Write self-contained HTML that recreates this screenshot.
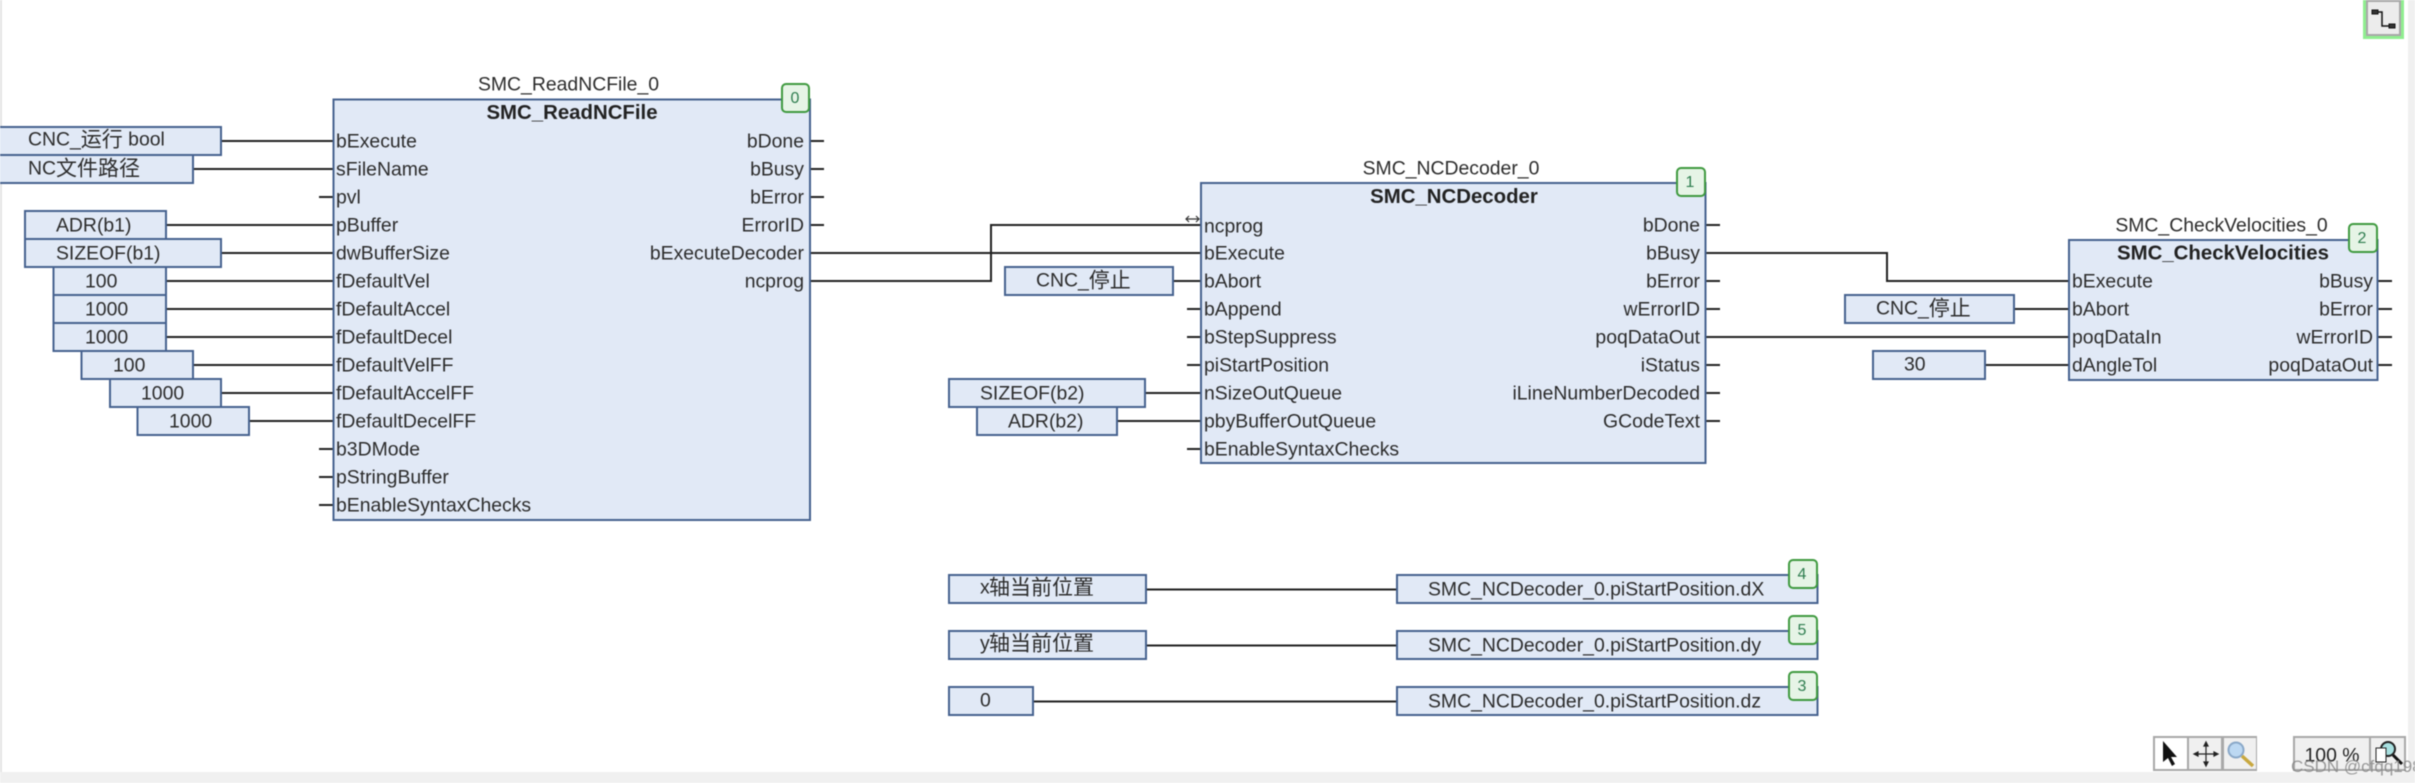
<!DOCTYPE html>
<html><head><meta charset="utf-8">
<style>
html,body{margin:0;padding:0;background:#fff;width:2415px;height:783px;overflow:hidden}
svg{display:block;filter:blur(0.45px)}
text{font-family:"Liberation Sans","Noto Sans CJK SC",sans-serif;font-size:19.4px;fill:#2c2c2c;dominant-baseline:central;transform:translateY(.7px)}
tspan.k{font-size:21px}
.b{fill:#e1e9f6;stroke:#46628f;stroke-width:2}
.w{stroke:#222;stroke-width:2;fill:none}
.t{font-weight:bold;font-size:20.4px;text-anchor:middle;fill:#222}
.c{text-anchor:middle}
.r{text-anchor:end}
.g{fill:#e6f4e6;stroke:#3f9a3f;stroke-width:2}
.n{font-size:16px;text-anchor:middle;fill:#2e7d4f}
</style></head><body>
<svg width="2415" height="783" viewBox="0 0 2415 783" xmlns="http://www.w3.org/2000/svg">
<rect x="0" y="0" width="2415" height="783" fill="#fff"/>
<rect x="0" y="0" width="2" height="772" fill="#e4e4e4"/>
<rect x="0" y="772" width="2415" height="11" fill="#f0f0f0"/>
<rect x="2408" y="0" width="7" height="783" fill="#f0f0f0"/>

<!-- wires -->
<g class="w">
<path d="M221 141H334M193 169H334M166 225H334M221 253H334M166 281H334M166 309H334M166 337H334M193 365H334M221 393H334M249 421H334"/>
<path d="M319 197H334M319 449H334M319 477H334M319 505H334"/>
<path d="M810 141H824M810 169H824M810 197H824M810 225H824"/>
<path d="M810 253H1201M810 281H991V225H1201"/>
<path d="M1173 281H1201M1187 309H1201M1187 337H1201M1187 365H1201M1145 393H1201M1117 421H1201M1187 449H1201"/>
<path d="M1705 225H1720M1705 281H1720M1705 309H1720M1705 365H1720M1705 393H1720M1705 421H1720"/>
<path d="M1705 253H1887V281H2069M1705 337H2069M2014 309H2069M1985 365H2069"/>
<path d="M2378 281H2392M2378 309H2392M2378 337H2392M2378 365H2392"/>
<path d="M1146 589.500H1397M1146 645.500H1397M1033 701.500H1397"/>
</g>

<!-- input boxes block 0 -->
<rect class="b" x="-30" y="127" width="251" height="28"/>
<rect class="b" x="-30" y="155" width="223" height="28"/>
<rect class="b" x="25" y="211" width="141" height="28"/>
<rect class="b" x="25" y="239" width="196" height="28"/>
<rect class="b" x="53.500" y="267" width="112.500" height="28"/>
<rect class="b" x="53.500" y="295" width="112.500" height="28"/>
<rect class="b" x="53.500" y="323" width="112.500" height="28"/>
<rect class="b" x="81.500" y="351" width="111.500" height="28"/>
<rect class="b" x="110" y="379" width="111" height="28"/>
<rect class="b" x="137.500" y="407" width="111.500" height="28"/>
<text x="28" y="139">CNC_<tspan class="k">运行</tspan> bool</text>
<text x="28" y="168">NC<tspan class="k">文件路径</tspan></text>
<text x="56" y="225">ADR(b1)</text>
<text x="56" y="253">SIZEOF(b1)</text>
<text x="85" y="281">100</text>
<text x="85" y="309">1000</text>
<text x="85" y="337">1000</text>
<text x="113" y="365">100</text>
<text x="141" y="393">1000</text>
<text x="169" y="421">1000</text>

<!-- block 0 -->
<rect class="b" x="333.500" y="99.500" width="476.500" height="420.500"/>
<text class="c" x="568.500" y="84">SMC_ReadNCFile_0</text>
<text class="t" x="572" y="112.500">SMC_ReadNCFile</text>
<rect class="g" x="782" y="84" width="27" height="28" rx="4"/>
<text class="n" x="795" y="98">0</text>
<text x="336" y="141">bExecute</text>
<text x="336" y="169">sFileName</text>
<text x="336" y="197">pvl</text>
<text x="336" y="225">pBuffer</text>
<text x="336" y="253">dwBufferSize</text>
<text x="336" y="281">fDefaultVel</text>
<text x="336" y="309">fDefaultAccel</text>
<text x="336" y="337">fDefaultDecel</text>
<text x="336" y="365">fDefaultVelFF</text>
<text x="336" y="393">fDefaultAccelFF</text>
<text x="336" y="421">fDefaultDecelFF</text>
<text x="336" y="449">b3DMode</text>
<text x="336" y="477">pStringBuffer</text>
<text x="336" y="505">bEnableSyntaxChecks</text>
<text class="r" x="804" y="141">bDone</text>
<text class="r" x="804" y="169">bBusy</text>
<text class="r" x="804" y="197">bError</text>
<text class="r" x="804" y="225">ErrorID</text>
<text class="r" x="804" y="253">bExecuteDecoder</text>
<text class="r" x="804" y="281">ncprog</text>

<!-- block 1 -->
<rect class="b" x="1005" y="267" width="168" height="28"/>
<rect class="b" x="949" y="379" width="196" height="28"/>
<rect class="b" x="977" y="407" width="140" height="28"/>
<text x="1036" y="280">CNC_<tspan class="k">停止</tspan></text>
<text x="980" y="393">SIZEOF(b2)</text>
<text x="1008" y="421">ADR(b2)</text>
<rect class="b" x="1201" y="183" width="504.500" height="280"/>
<text class="c" x="1451" y="168">SMC_NCDecoder_0</text>
<text class="t" x="1454" y="196.500">SMC_NCDecoder</text>
<rect class="g" x="1677" y="168" width="28" height="28" rx="4"/>
<text class="n" x="1690" y="182">1</text>
<path d="M1186 219H1199M1189 216L1186 219L1189 222M1196 216L1199 219L1196 222" fill="none" stroke="#333" stroke-width="1.200"/>
<text x="1204" y="226">ncprog</text>
<text x="1204" y="253">bExecute</text>
<text x="1204" y="281">bAbort</text>
<text x="1204" y="309">bAppend</text>
<text x="1204" y="337">bStepSuppress</text>
<text x="1204" y="365">piStartPosition</text>
<text x="1204" y="393">nSizeOutQueue</text>
<text x="1204" y="421">pbyBufferOutQueue</text>
<text x="1204" y="449">bEnableSyntaxChecks</text>
<text class="r" x="1700" y="225">bDone</text>
<text class="r" x="1700" y="253">bBusy</text>
<text class="r" x="1700" y="281">bError</text>
<text class="r" x="1700" y="309">wErrorID</text>
<text class="r" x="1700" y="337">poqDataOut</text>
<text class="r" x="1700" y="365">iStatus</text>
<text class="r" x="1700" y="393">iLineNumberDecoded</text>
<text class="r" x="1700" y="421">GCodeText</text>

<!-- block 2 -->
<rect class="b" x="1845" y="295" width="169" height="28"/>
<rect class="b" x="1873" y="351" width="112" height="28"/>
<text x="1876" y="308">CNC_<tspan class="k">停止</tspan></text>
<text x="1904" y="364">30</text>
<rect class="b" x="2069" y="240" width="308.500" height="140"/>
<text class="c" x="2221.500" y="225">SMC_CheckVelocities_0</text>
<text class="t" x="2223" y="253">SMC_CheckVelocities</text>
<rect class="g" x="2349" y="224" width="28" height="28" rx="4"/>
<text class="n" x="2362" y="238">2</text>
<text x="2072" y="281">bExecute</text>
<text x="2072" y="309">bAbort</text>
<text x="2072" y="337">poqDataIn</text>
<text x="2072" y="365">dAngleTol</text>
<text class="r" x="2373" y="281">bBusy</text>
<text class="r" x="2373" y="309">bError</text>
<text class="r" x="2373" y="337">wErrorID</text>
<text class="r" x="2373" y="365">poqDataOut</text>

<!-- assignments -->
<rect class="b" x="949" y="575" width="197" height="28"/>
<rect class="b" x="949" y="631" width="197" height="28"/>
<rect class="b" x="949" y="687" width="84" height="28"/>
<text x="980" y="587">x<tspan class="k" x="989">轴当前位置</tspan></text>
<text x="980" y="643">y<tspan class="k" x="989">轴当前位置</tspan></text>
<text x="980" y="700">0</text>
<rect class="b" x="1397" y="575" width="420.500" height="28"/>
<rect class="b" x="1397" y="631" width="420.500" height="28"/>
<rect class="b" x="1397" y="687" width="420.500" height="28"/>
<text x="1428" y="589">SMC_NCDecoder_0.piStartPosition.dX</text>
<text x="1428" y="645">SMC_NCDecoder_0.piStartPosition.dy</text>
<text x="1428" y="701">SMC_NCDecoder_0.piStartPosition.dz</text>
<rect class="g" x="1789" y="560" width="28" height="28" rx="4"/>
<text class="n" x="1802" y="574">4</text>
<rect class="g" x="1789" y="616" width="28" height="28" rx="4"/>
<text class="n" x="1802" y="630">5</text>
<rect class="g" x="1789" y="672" width="28" height="28" rx="4"/>
<text class="n" x="1802" y="686">3</text>

<!-- top right button -->
<rect x="2363" y="0" width="41" height="39" fill="#90ee90"/>
<rect x="2367" y="1" width="33" height="34" fill="#ececec" stroke="#a8a8a8" stroke-width="2"/>
<path d="M2375 12H2382V26H2391" fill="none" stroke="#111" stroke-width="1.500"/>
<rect x="2372" y="10" width="6" height="4" fill="#333" stroke="#111"/>
<rect x="2389" y="24" width="6" height="4" fill="#333" stroke="#111"/>

<!-- bottom toolbar -->
<rect x="2153" y="736" width="104" height="35" fill="#a8a8a8"/>
<rect x="2155" y="738" width="32" height="31" fill="#fff"/>
<rect x="2189" y="738" width="32" height="31" fill="#f0f0f0"/>
<rect x="2224" y="738" width="32" height="31" fill="#f0f0f0"/>
<path d="M2163 741V762L2168 758L2172 766L2175 764L2171 757H2177Z" fill="#111"/>
<path d="M2206 745V763M2197 754H2215M2206 742l-2 4h4zM2206 766l-2-4h4zM2194 754l4-2v4zM2218 754l-4-2v4z" stroke="#222" stroke-width="1.200" fill="#222"/>
<circle cx="2236" cy="750" r="7.500" fill="#bcd8f2" stroke="#8aa8c8" stroke-width="2"/>
<path d="M2242 756L2253 766" stroke="#c8a840" stroke-width="3.500"/>
<rect x="2293" y="736" width="113" height="35" fill="#a8a8a8"/>
<rect x="2295" y="738" width="74" height="31" fill="#f0f0f0"/>
<rect x="2371" y="738" width="33" height="31" fill="#f0f0f0"/>
<text class="c" x="2332" y="755" style="fill:#222">100 %</text>
<circle cx="2388" cy="749" r="7" fill="#a8e0e0" stroke="#222" stroke-width="2"/>
<rect x="2376" y="748" width="10" height="14" fill="#fff" stroke="#222"/>
<path d="M2393 755L2402 764" stroke="#111" stroke-width="3"/>
<text x="2291" y="766" style="font-size:17px;fill:#888;opacity:.85">CSDN @cfqq1989</text>
</svg>
</body></html>
